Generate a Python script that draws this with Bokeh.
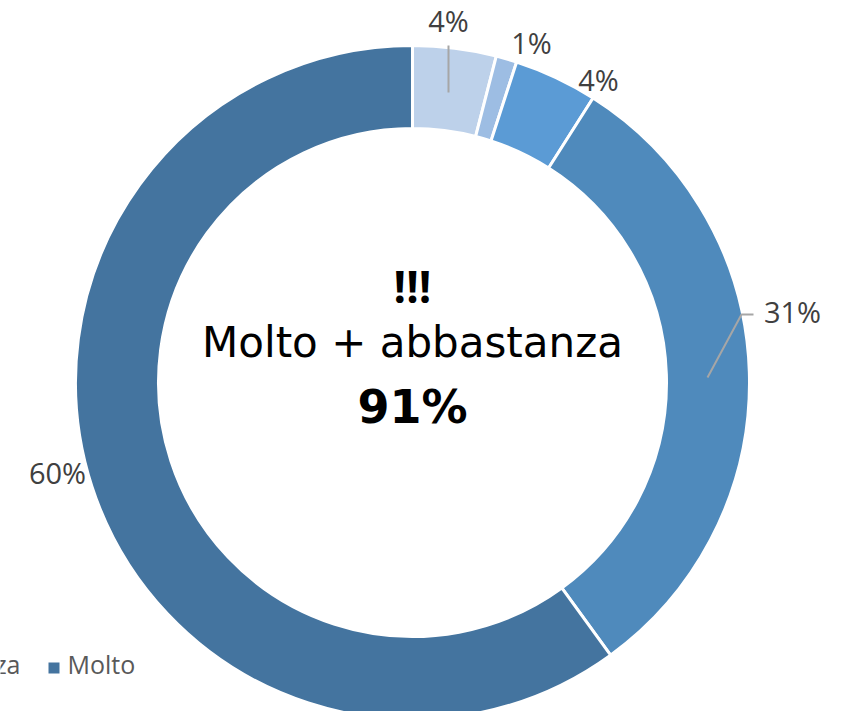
import math
from bokeh.plotting import figure
from bokeh.models import Range1d, ColumnDataSource
from bokeh.core.properties import value
from bokeh.embed import file_html
from bokeh.resources import INLINE

categories = ["Non so", "Per niente", "Poco", "Abbastanza", "Molto"]
values = [4, 1, 4, 31, 60]
colors = ["#BDD1EA", "#9DBDE3", "#5B9BD5", "#4F8ABC", "#44749F"]
labels = ["4%", "1%", "4%", "31%", "60%"]
center_title = "!!!"
center_sub = "Molto + abbastanza"
center_total = "91%"

W, H = 835, 711
def Y(ys):
    return 719 - ys

p = figure(width=W, height=H, output_backend="svg", toolbar_location=None,
           x_range=Range1d(0, 835), y_range=Range1d(8, 719),
           min_border=0, outline_line_color=None)
p.axis.visible = False
p.grid.visible = False
p.background_fill_color = "white"
p.border_fill_color = "white"

cx, cy = 412, Y(382)
total = sum(values)
starts, ends = [], []
acc = 0
for v in values:
    starts.append(math.pi / 2 - acc / total * 2 * math.pi)
    acc += v
    ends.append(math.pi / 2 - acc / total * 2 * math.pi)

src = ColumnDataSource(dict(start=starts, end=ends, color=colors, cat=categories))
p.annular_wedge(x=cx, y=cy, inner_radius=254, outer_radius=337,
                start_angle="start", end_angle="end", direction="clock",
                fill_color="color", line_color="white", line_width=3, source=src)

# leader lines
p.line(x=[448, 448], y=[Y(45), Y(92)], line_color="#A6A6A6", line_width=2)
p.line(x=[707, 741, 753], y=[Y(377), Y(314), Y(314)], line_color="#A6A6A6", line_width=2)

# data labels
lx = [448, 531, 598, 792, 57]
ly = [Y(20), Y(42), Y(79), Y(310.5), Y(471.5)]
p.text(x=lx, y=ly, text=labels, text_align="center", text_baseline="middle",
       text_font=value("Open Sans"), text_font_size="29px", text_color="#404040")

# center texts
p.text(x=[412], y=[Y(285.5)], text=[center_title], text_align="center", text_baseline="middle",
       text_font=value("Open Sans"), text_font_style="bold", text_font_size="44px", text_color="black")
p.text(x=[412], y=[Y(342)], text=[center_sub], text_align="center", text_baseline="middle",
       text_font=value("DejaVu Sans"), text_font_size="42px", text_color="black")
p.text(x=[412], y=[Y(406)], text=[center_total], text_align="center", text_baseline="middle",
       text_font=value("DejaVu Sans"), text_font_style="bold", text_font_size="46px", text_color="black")

# legend (partially cut off on the left)
p.text(x=[20], y=[Y(663.5)], text=[categories[3]], text_align="right", text_baseline="middle",
       text_font=value("Open Sans"), text_font_size="25px", text_color="#595959")
p.scatter(x=[53.5], y=[Y(667.5)], marker="square", size=11, fill_color=colors[4], line_color=None)
p.text(x=[67], y=[Y(663.5)], text=[categories[4]], text_align="left", text_baseline="middle",
       text_font=value("Open Sans"), text_font_size="25px", text_color="#595959")

open("out.html", "w").write(file_html(p, INLINE))
